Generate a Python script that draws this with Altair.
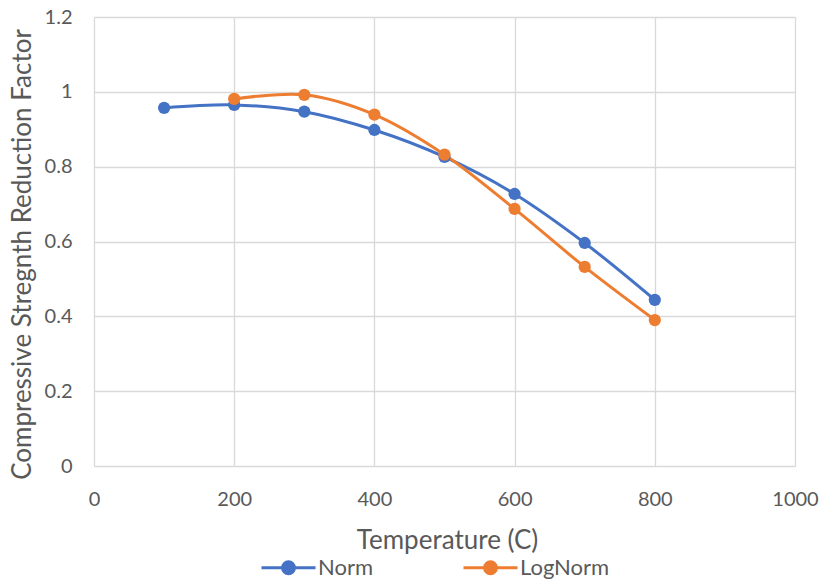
import altair as alt
import pandas as pd

temps_norm = [100, 200, 300, 400, 500, 600, 700, 800]
norm_vals = [0.957, 0.965, 0.947, 0.898, 0.826, 0.727, 0.596, 0.444]
temps_log = [200, 300, 400, 500, 600, 700, 800]
log_vals = [0.981, 0.992, 0.939, 0.832, 0.687, 0.532, 0.390]
series = ["Norm", "LogNorm"]
colors = ["#4472C4", "#ED7D31"]
x_ticks = [0, 200, 400, 600, 800, 1000]
y_ticks = [0, 0.2, 0.4, 0.6, 0.8, 1.0, 1.2]

df = pd.concat([
    pd.DataFrame({"T": temps_norm, "v": norm_vals, "s": "Norm"}),
    pd.DataFrame({"T": temps_log, "v": log_vals, "s": "LogNorm"}),
])

FONT = "Lato"
GRAY = "#595959"

color = alt.Color("s:N", scale=alt.Scale(domain=series, range=colors),
                  legend=alt.Legend(
                      title=None, orient="none", direction="horizontal",
                      legendX=166, legendY=522,
                      symbolType="M-1,0L1,0M-0.22,0A0.22,0.22 0 1 1 0.22,0A0.22,0.22 0 1 1 -0.22,0",
                      symbolSize=2916, symbolStrokeWidth=3,
                      labelFontSize=22, labelColor=GRAY, labelFont=FONT,
                      columnPadding=83, labelOffset=1))

x = alt.X("T:Q", title="Temperature (C)",
          scale=alt.Scale(domain=[0, 1000], nice=False),
          axis=alt.Axis(values=x_ticks, grid=True, format="d", labelFlush=False,
                        titleX=353, titleY=74, titleBaseline="middle", titleAlign="center"))
y = alt.Y("v:Q", title="Compressive Stregnth Reduction Factor",
          scale=alt.Scale(domain=[0, 1.2], nice=False),
          axis=alt.Axis(values=y_ticks,
                        labelExpr="datum.value == 0 ? '0' : format(datum.value, '.1~f')",
                        titleX=-72, titleY=237, titleAngle=270,
                        titleBaseline="middle", titleAlign="center"))

base = alt.Chart(df)
lines = base.mark_line(interpolate="catmull-rom", strokeWidth=3).encode(x=x, y=y, color=color, order="T:Q")
points = base.mark_point(filled=True, size=150, opacity=1).encode(x=x, y=y, color=color)

chart = (lines + points).properties(
    width=701, height=449,
    autosize=alt.AutoSizeParams(type="none"),
    padding={"left": 94, "top": 17, "right": 30, "bottom": 120},
).configure_view(stroke=None).configure_axis(
    gridColor="#D9D9D9", gridWidth=1.3, domain=False, ticks=False,
    labelFont=FONT, labelFontSize=20, labelColor=GRAY,
    titleFont=FONT, titleFontSize=26, titleColor=GRAY, titleFontWeight="normal",
).configure_axisX(labelPadding=23).configure_axisY(labelPadding=22)

chart.save("out.html", embed_options={"renderer": "svg", "actions": False})
